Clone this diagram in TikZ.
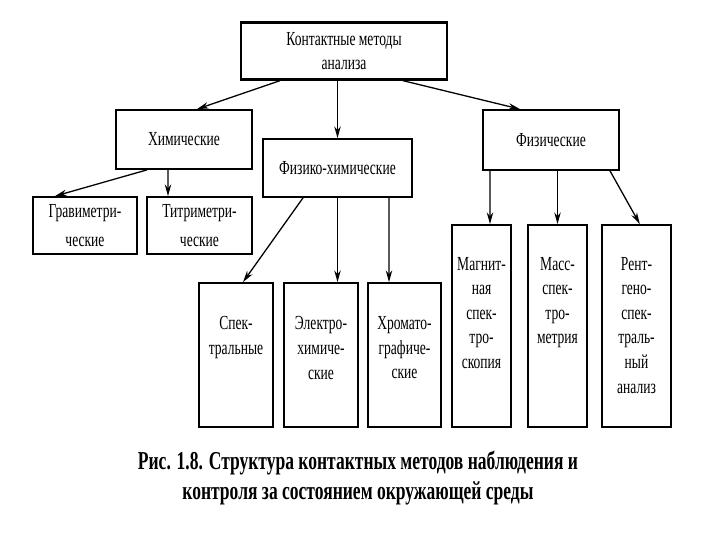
\documentclass[tikz,border=0pt]{standalone}
\usepackage{fontspec}
\setmainfont{Liberation Serif}[FakeStretch=0.68]
\usetikzlibrary{positioning, arrows.meta}

\begin{document}
\begin{tikzpicture}[x=0.03cm, y=-0.03cm,
    box/.style={rectangle, draw, line width=1.5pt, inner sep=0pt, align=center,
                font=\fontsize{17}{20}\selectfont},
    tall/.style={rectangle, draw, line width=1.5pt, inner sep=0pt, minimum width=#1},
    lbl/.style={align=center, inner sep=0pt, font=\fontsize{17}{21}\selectfont},
    arr/.style={-{Stealth[length=10pt, width=5.5pt]}, line width=1.1pt}
  ]
  \useasboundingbox (0,0) rectangle (720,540);

  % Root
  \node[box, minimum width=6.18cm, minimum height=1.71cm, line width=2pt] (root)
        at (344,51) {Контактные методы\\анализа};

  % Second level
  \node[box, minimum width=4.08cm, minimum height=1.77cm] (chem) at (184,139.5) {Химические};
  \node[box, minimum width=4.47cm, minimum height=1.74cm] (physchem) at (337.5,168) {Физико-химические};
  \node[box, minimum width=4.08cm, minimum height=1.8cm] (phys) at (551,140) {Физические};

  % Chemical methods
  \node[box, minimum width=3.12cm, minimum height=1.71cm, font=\fontsize{17}{25}\selectfont]
        (grav) at (85,225.5) {Гравиметри-\\ческие};
  \node[box, minimum width=3.15cm, minimum height=1.71cm, font=\fontsize{17}{25}\selectfont]
        (titr) at (199.5,225.5) {Титриметри-\\ческие};

  % Physico-chemical methods
  \node[tall=2.22cm, minimum height=4.32cm] (spec) at (236,355) {};
  \node[tall=2.22cm, minimum height=4.32cm] (electro) at (321,355) {};
  \node[tall=2.19cm, minimum height=4.32cm] (chrom) at (404.5,355) {};
  \node[lbl, below=1.03cm of spec.north] (spectxt) {Спек-\\тральные};
  \node[lbl, below=1.03cm of electro.north] (electrotxt) {Электро-\\химиче-\\ские};
  \node[lbl, below=1.03cm of chrom.north] (chromtxt) {Хромато-\\графиче-\\ские};

  % Physical methods
  \node[tall=1.77cm, minimum height=6.06cm] (magn) at (481.5,326) {};
  \node[tall=1.77cm, minimum height=6.06cm] (mass) at (557.5,326) {};
  \node[tall=2.07cm, minimum height=6.06cm] (rent) at (636.5,326) {};
  \node[lbl, below=0.98cm of magn.north] (magntxt) {Магнит-\\ная\\спек-\\тро-\\скопия};
  \node[lbl, below=0.98cm of mass.north] (masstxt) {Масс-\\спек-\\тро-\\метрия};
  \node[lbl, below=0.98cm of rent.north] (renttxt) {Рент-\\гено-\\спек-\\траль-\\ный\\анализ};

  % Arrows
  \draw[arr] ([xshift=-1.92cm]root.south) -- ([xshift=0.39cm]chem.north);
  \draw[arr] (root.south -| physchem.north) -- (physchem.north);
  \draw[arr] ([xshift=1.77cm]root.south) -- ([xshift=-0.93cm]phys.north);

  \draw[arr] ([xshift=-1.11cm]chem.south) -- ([xshift=-0.9cm]grav.north);
  \draw[arr] ([xshift=-0.48cm]chem.south) -- ([xshift=-0.945cm]titr.north);

  \draw[arr] ([xshift=-1.035cm]physchem.south) -- ([xshift=0.21cm]spec.north);
  \draw[arr] (physchem.south) -- (physchem.south |- electro.north);
  \draw[arr] ([xshift=1.545cm]physchem.south) -- ([xshift=-0.465cm]chrom.north);

  \draw[arr] ([xshift=-1.83cm]phys.south) -- ([xshift=0.255cm]magn.north);
  \draw[arr] (phys.south -| mass.north) -- (mass.north);
  \draw[arr] ([xshift=1.77cm]phys.south) -- ([xshift=0.1cm]rent.north);

  % Caption
  \node[align=center, font=\fontsize{22}{26}\selectfont\bfseries] (caption) at (358,478)
        {Рис. 1.8. Структура контактных методов наблюдения и\\контроля за состоянием окружающей среды};
\end{tikzpicture}
\end{document}
